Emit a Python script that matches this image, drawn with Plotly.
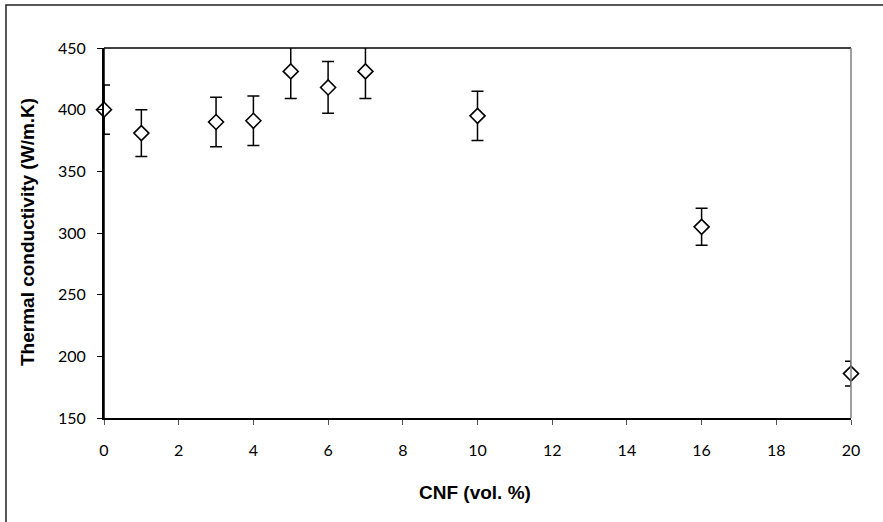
import plotly.graph_objects as go

cnf = [0, 1, 3, 4, 5, 6, 7, 10, 16, 20]
conductivity = [400, 381, 390, 391, 431, 418, 431, 395, 305, 186]
error = [20, 19, 20, 20, 22, 21, 22, 20, 15, 10]

x_ticks = [0, 2, 4, 6, 8, 10, 12, 14, 16, 18, 20]
y_ticks = [150, 200, 250, 300, 350, 400, 450]

W, H = 883, 522
L, R, T, B = 104, 32, 48, 104
pw, ph = W - L - R, H - T - B

def px_x(p):
    return (p - L) / pw

def px_y(p):
    return (H - B - p) / ph

fig = go.Figure()
fig.add_trace(go.Scatter(
    x=cnf, y=conductivity, mode="markers",
    marker=dict(symbol="diamond", size=11.5, color="white",
                line=dict(color="black", width=1.6)),
    error_y=dict(type="data", array=error, visible=True,
                 color="black", thickness=1.5, width=6),
    cliponaxis=False, showlegend=False,
))

tickfont = dict(family="Lato, Calibri, sans-serif", size=16, color="black")
fig.update_xaxes(
    range=[0, 20], tickvals=x_ticks, ticktext=[str(v) for v in x_ticks],
    showgrid=False, zeroline=False, showline=True, linecolor="black", linewidth=2,
    ticks="outside", ticklen=5, tickcolor="#555", tickwidth=1.2,
    tickfont=tickfont, ticklabelstandoff=12,
)
fig.update_yaxes(
    range=[150, 450], tickvals=y_ticks, ticktext=[str(v) for v in y_ticks],
    showgrid=False, zeroline=False, showline=True, linecolor="black", linewidth=2,
    ticks="outside", ticklen=5, tickcolor="black", tickwidth=1.2,
    tickfont=tickfont, ticklabelstandoff=8,
)

shapes = [
    # outer chart frame
    dict(type="rect", xref="paper", yref="paper",
         x0=px_x(6), x1=px_x(895), y0=px_y(535), y1=px_y(5),
         line=dict(color="#222", width=1.5), fillcolor="rgba(0,0,0,0)", layer="below"),
    # plot area top border
    dict(type="line", xref="paper", yref="paper", x0=0, x1=1, y0=1, y1=1,
         line=dict(color="black", width=1.5)),
    # plot area right border
    dict(type="line", xref="paper", yref="paper", x0=1, x1=1, y0=0, y1=1,
         line=dict(color="#808080", width=1.5)),
    # plot area left border (value axis line)
    dict(type="line", xref="paper", yref="paper", x0=0, x1=0, y0=0, y1=1,
         line=dict(color="black", width=1.5), layer="below"),
]

titlefont = dict(family="Liberation Sans, Arial, sans-serif", size=19, color="black")
annotations = [
    dict(text="<b>CNF (vol. %)</b>", xref="paper", yref="paper",
         x=px_x(475), y=px_y(492), xanchor="center", yanchor="middle",
         showarrow=False, font=titlefont),
    dict(text="<b>Thermal conductivity (W/m.K)</b>", xref="paper", yref="paper",
         x=px_x(27), y=px_y(232), xanchor="center", yanchor="middle",
         textangle=-90, showarrow=False, font=titlefont),
]

fig.update_layout(
    width=W, height=H,
    margin=dict(l=L, r=R, t=T, b=B, autoexpand=False),
    paper_bgcolor="white", plot_bgcolor="white",
    shapes=shapes, annotations=annotations,
)

fig.write_html("out.html",
               config={"displayModeBar": False},
               post_script="document.body.style.margin='0';document.body.style.overflow='hidden';")
